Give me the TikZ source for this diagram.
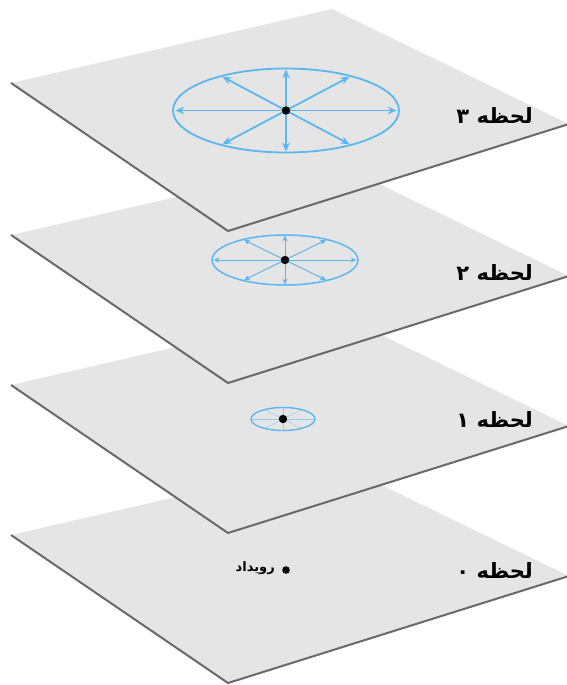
\documentclass[tikz,border=0pt]{standalone}
\usepackage{fontspec}
\TeXXeTstate=1
\newfontfamily\arabicfont[Script=Arabic]{DejaVu Sans}
\usetikzlibrary{arrows.meta}
\definecolor{planefill}{RGB}{229,229,229}
\definecolor{planeedge}{RGB}{105,105,105}
\definecolor{wave}{RGB}{92,182,240}
\newcommand\myplane[2]{%
  \begin{scope}[shift={(0,#2)}]
    \coordinate (#1L) at (11,83);
    \coordinate (#1T) at (332,9);
    \coordinate (#1R) at (569,124);
    \coordinate (#1B) at (228,231);
  \end{scope}
  \fill[planeface] (#1L) -- (#1T) -- (#1R) -- (#1B) -- cycle;
  \draw[planerim] (#1L) -- (#1B) -- (#1R);
}
\newcommand\mywave[6]{%
  \coordinate (#1c) at (#2,#3);
  \draw[#6] (#1c) ellipse [x radius=#4, y radius=#5];
  \foreach \a [count=\k] in {0,55,90,125,180,235,270,305}{
    \coordinate (#1e\k) at ({#2+#4*0.98*cos(\a)},{#3-#5*0.98*sin(\a)});
    \draw[#6,ray] (#1c) -- (#1e\k);
  }
  \fill (#1c) circle (4.2);
}
\begin{document}
\begin{tikzpicture}[x=1pt,y=-1pt,
  planeface/.style={fill=planefill},
  planerim/.style={draw=planeedge,line width=2pt,line join=round},
  lbl/.style={font=\arabicfont\bfseries\fontsize{21}{24}\selectfont,anchor=east,inner sep=0pt},
  evlbl/.style={font=\arabicfont\bfseries\fontsize{13}{15}\selectfont,anchor=east,inner sep=0pt},
  bigwave/.style={draw=wave,line width=1.8pt,ray/.style={-{Stealth[length=9pt,width=7.5pt]}}},
  midwave/.style={draw=wave,line width=1.5pt,ray/.style={line width=1pt,-{Stealth[length=6pt,width=5pt]}}},
  smallwave/.style={draw=wave,line width=1.4pt,ray/.style={line width=0.4pt,draw=wave!70}}]
\useasboundingbox (0,0) rectangle (567,685);
% moment 0
\myplane{p0}{452}
\coordinate (ev) at (286,570);
\fill (ev) circle (3.8);
\node[evlbl] (evt) at (275,568) {\beginR رویداد\endR};
\node[lbl] (l0) at (533,571) {\beginR لحظه ۰\endR};
% moment 1
\myplane{p1}{302}
\mywave{w1}{283}{419}{32}{11.5}{smallwave}
\node[lbl] (l1) at (533,420) {\beginR لحظه ۱\endR};
% moment 2
\myplane{p2}{152}
\mywave{w2}{285}{260}{73}{25}{midwave}
\node[lbl] (l2) at (533,273) {\beginR لحظه ۲\endR};
% moment 3
\myplane{p3}{0}
\mywave{w3}{286}{110.5}{113}{42}{bigwave}
\node[lbl] (l3) at (533,116) {\beginR لحظه ۳\endR};
\end{tikzpicture}
\end{document}
